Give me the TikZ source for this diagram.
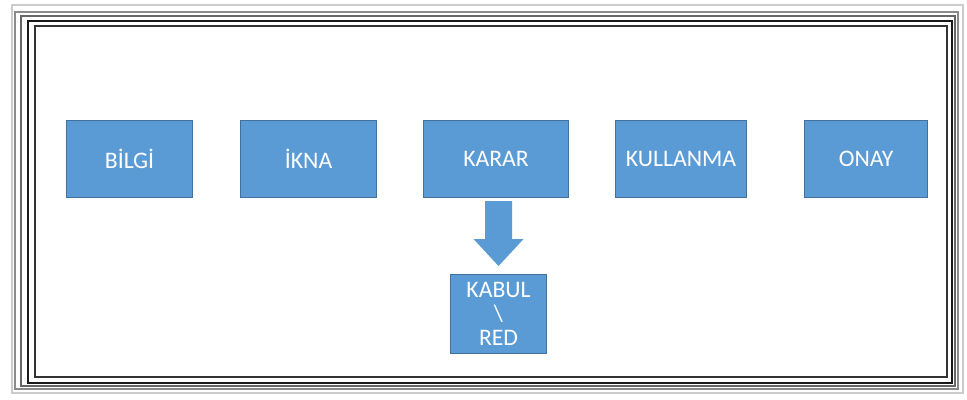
\documentclass[tikz,border=0pt]{standalone}
\usepackage{fontspec}
\setmainfont{Carlito}
\usetikzlibrary{positioning,calc}
\definecolor{boxblue}{HTML}{5B9BD5}
\definecolor{boxedge}{HTML}{41719C}

\begin{document}
\begin{tikzpicture}[
    x=0.02cm, y=-0.02cm,
    stage/.style={draw=boxedge, fill=boxblue, text=white, line width=0.6pt,
                  minimum height=1.54cm, font=\fontsize{13.5}{13.5}\selectfont,
                  align=center, inner sep=0pt},
    frameline/.style={draw=#1, line width=0.8pt},
]
    % page size
    \useasboundingbox (0,0) rectangle (967,399);

    % frame around the slide
    \foreach \xa/\ya/\xb/\yb/\col in {12/5/963/393/black!20, 15/12/958/389/black!45,
        21/16/955/386/black!60, 28/21/952/383/black!90, 35/26/947/377/black!80}
        \draw[frameline=\col] (\xa,\ya) rectangle (\xb,\yb);

    % stages
    \node[stage, minimum width=2.52cm, anchor=north west] (bilgi) at (66,120) {BİLGİ};
    \node[stage, minimum width=2.72cm, right=0.94cm of bilgi] (ikna) {İKNA};
    \node[stage, minimum width=2.90cm, right=0.92cm of ikna] (karar) {KARAR};
    \node[stage, minimum width=2.62cm, right=0.92cm of karar] (kullanma) {KULLANMA};
    \node[stage, minimum width=2.46cm, right=1.14cm of kullanma] (onay) {ONAY};

    % result of the decision
    \node[stage, minimum width=1.92cm, minimum height=1.58cm, below=1.52cm of karar,
          xshift=0.05cm] (kabul) {KABUL\\\textbackslash\\RED};

    % block arrow
    \coordinate (tip) at ($(kabul.north)+(0,-8)$);
    \fill[boxblue] (tip) -- ++(-25,-27) -- ++(11.5,0) -- ++(0,-38) -- ++(27,0)
        -- ++(0,38) -- ++(11.5,0) -- cycle;
\end{tikzpicture}
\end{document}
